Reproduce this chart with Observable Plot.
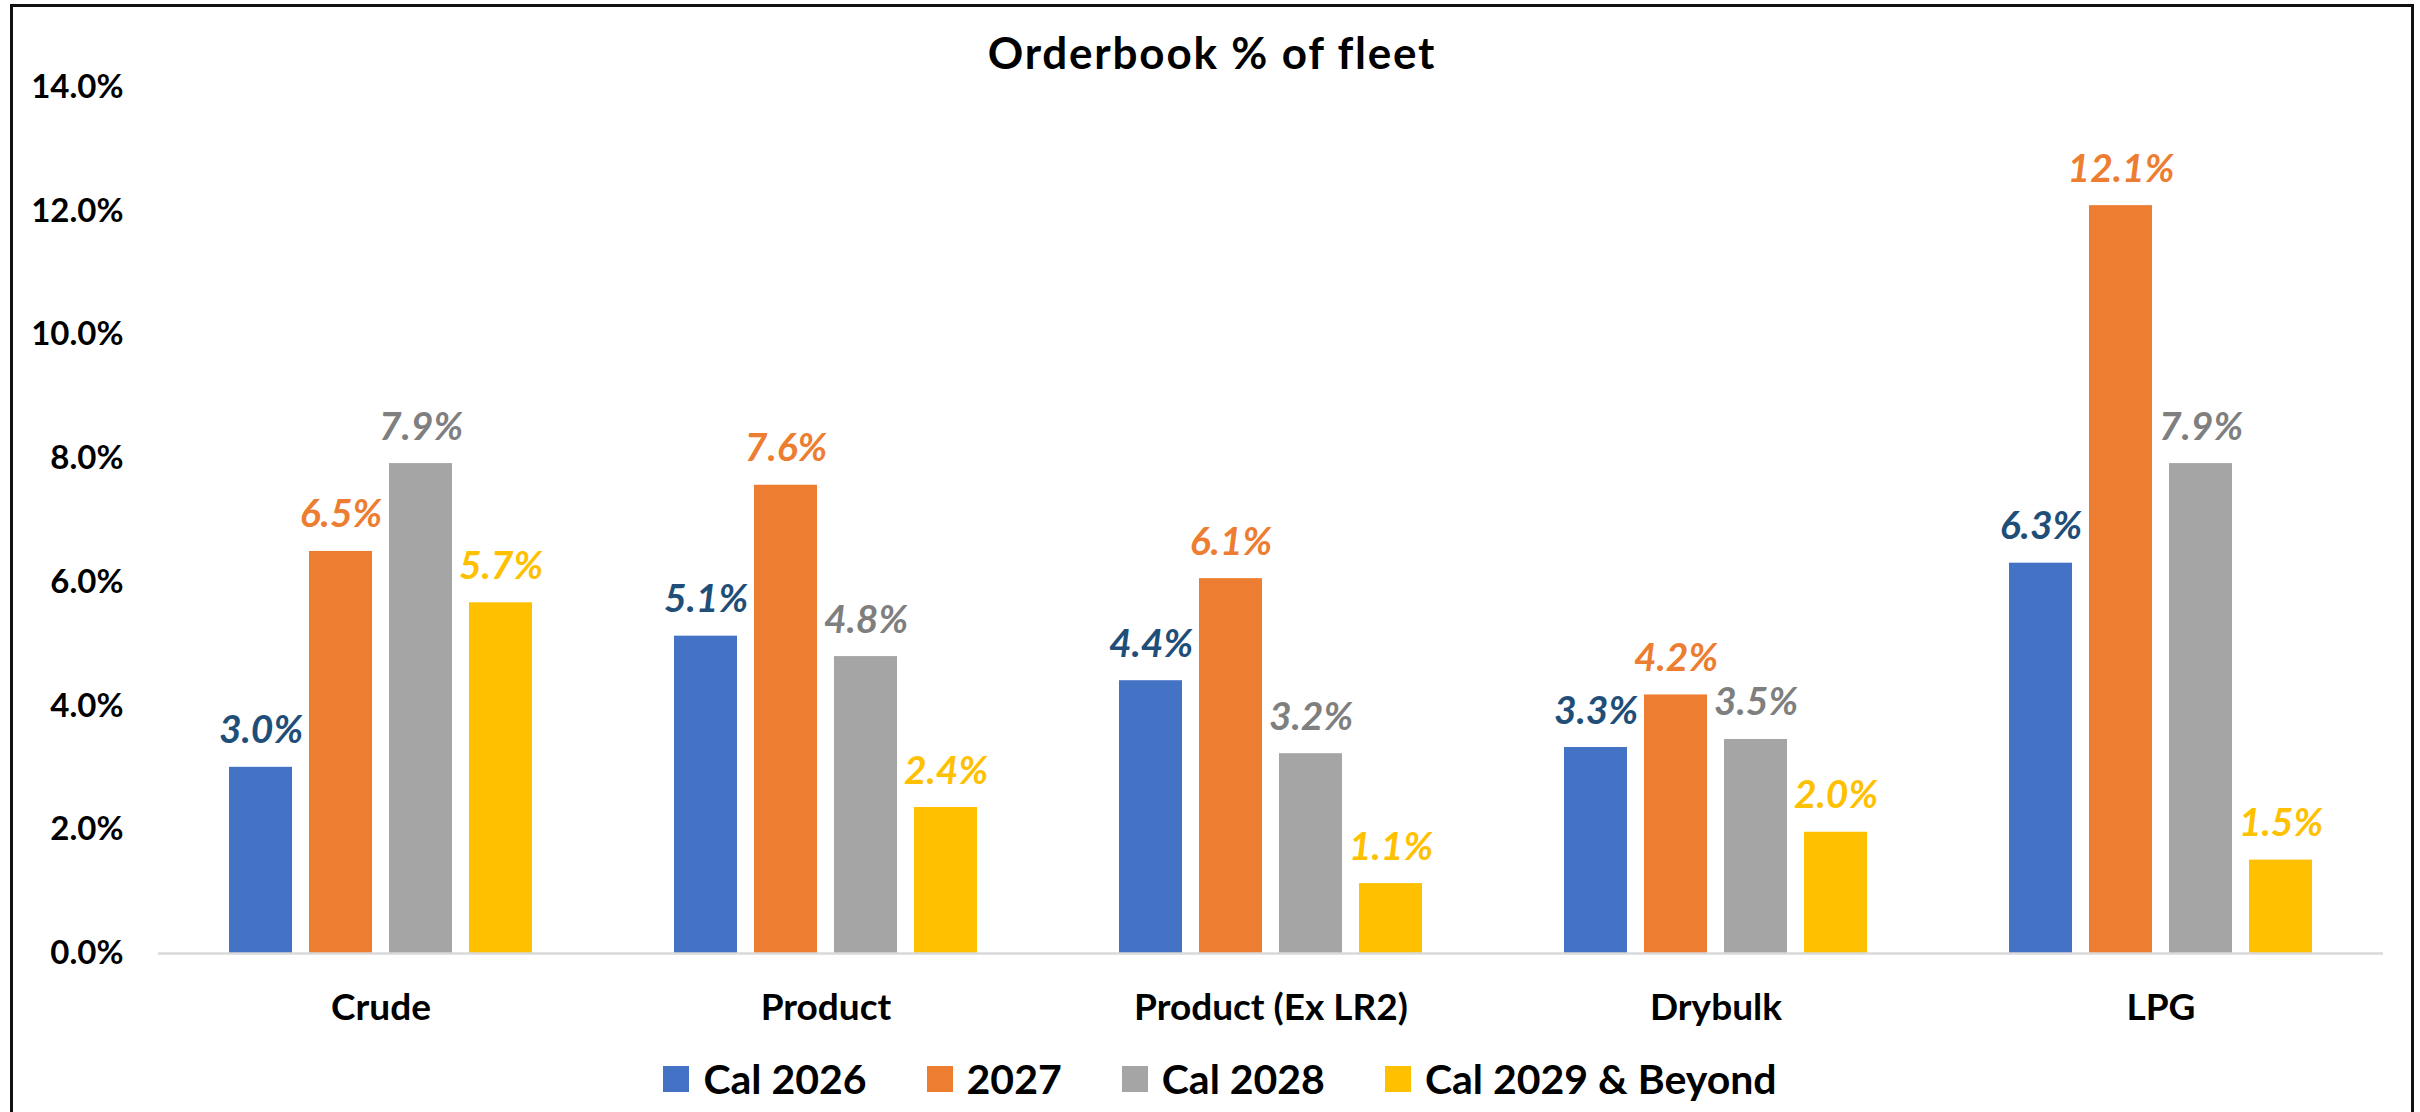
<!DOCTYPE html>
<html>
<head>
<meta charset="utf-8">
<script src="https://cdn.jsdelivr.net/npm/d3@7"></script>
<script src="https://cdn.jsdelivr.net/npm/@observablehq/plot@0.6"></script>
<style>
  html, body { margin: 0; padding: 0; background: #fff; }
  #wrap { position: relative; width: 2420px; height: 1112px; overflow: hidden; font-family: Lato, "Open Sans", sans-serif; }
  #frame { position: absolute; left: 10px; top: 4px; width: 2404px; height: 1130px; border: 3px solid #111; box-sizing: border-box; pointer-events: none; }
  #title { position: absolute; left: 0; width: 2424px; top: 30px; text-align: center; font-weight: 700; font-size: 44px; line-height: 1; letter-spacing: 1.8px; color: #000; }
  #chart { position: absolute; left: 0; top: 0; }
  #legend { position: absolute; left: 0; width: 2440px; top: 1058px; display: flex; justify-content: center; align-items: center; font-weight: 700; font-size: 41px; line-height: 1; color: #000; }
  .item { display: flex; align-items: center; margin: 0 30px; }
  .sw { width: 26px; height: 26px; margin-right: 14px; }
</style>
</head>
<body>
<div id="wrap">
  <div id="chart"></div>
  <div id="title">Orderbook % of fleet</div>
  <div id="legend"></div>
  <div id="frame"></div>
</div>
<script>
const categories = ["Crude", "Product", "Product (Ex LR2)", "Drybulk", "LPG"];
const series = ["Cal 2026", "2027", "Cal 2028", "Cal 2029 & Beyond"];
const cal2026 = [0.0301, 0.0513, 0.0441, 0.0333, 0.0631];
const y2027 = [0.0650, 0.0757, 0.0606, 0.0418, 0.1209];
const cal2028 = [0.0792, 0.0480, 0.0323, 0.0346, 0.0792];
const cal2029 = [0.0567, 0.0236, 0.0113, 0.0196, 0.0151];
const yTicks = [0, 0.02, 0.04, 0.06, 0.08, 0.10, 0.12, 0.14];
const barColors = ["#4472C4", "#ED7D31", "#A5A5A5", "#FFC000"];
const labelColors = ["#1F4E79", "#ED7D31", "#7F7F7F", "#FFC000"];

const valuesBySeries = [cal2026, y2027, cal2028, cal2029];
const data = [];
series.forEach((s, si) => categories.forEach((c, ci) => data.push({category: c, series: s, value: valuesBySeries[si][ci]})));
const fmt = d3.format(".1%");

const chart = Plot.plot({
  width: 2420,
  height: 1040,
  marginTop: 87,
  marginBottom: 87,
  marginLeft: 157,
  marginRight: 37,
  style: {fontFamily: "Lato, 'Open Sans', sans-serif", color: "#000", background: "transparent"},
  fx: {domain: categories, padding: 0},
  x: {domain: series, paddingInner: 0.216, paddingOuter: 0.855, axis: null},
  y: {domain: [0, 0.14]},
  color: {domain: series, range: barColors},
  marks: [
    Plot.axisY({ticks: yTicks, tickFormat: ".1%", tickSize: 0, tickPadding: 35, fontSize: 33, fontWeight: "bold", label: null}),
    Plot.axisFx({anchor: "bottom", tickSize: 0, tickPadding: 40, fontSize: 37, fontWeight: "bold", label: null}),
    Plot.barY(data, {fx: "category", x: "series", y: "value", fill: "series"}),
    Plot.ruleY([0], {stroke: "#D9D9D9", strokeWidth: 2.5}),
    ...series.map((s, si) => Plot.text(data.filter(d => d.series === s), {
      fx: "category", x: "series", y: "value",
      text: d => fmt(d.value),
      fill: labelColors[si],
      lineAnchor: "bottom", dy: -24,
      fontSize: 39, fontWeight: "bold", fontStyle: "italic"
    }))
  ]
});
document.getElementById("chart").appendChild(chart);

const legend = document.getElementById("legend");
series.forEach((s, i) => {
  const item = document.createElement("div");
  item.className = "item";
  const sw = document.createElement("div");
  sw.className = "sw";
  sw.style.background = barColors[i];
  const t = document.createElement("span");
  t.textContent = s;
  item.appendChild(sw);
  item.appendChild(t);
  legend.appendChild(item);
});
</script>
</body>
</html>
